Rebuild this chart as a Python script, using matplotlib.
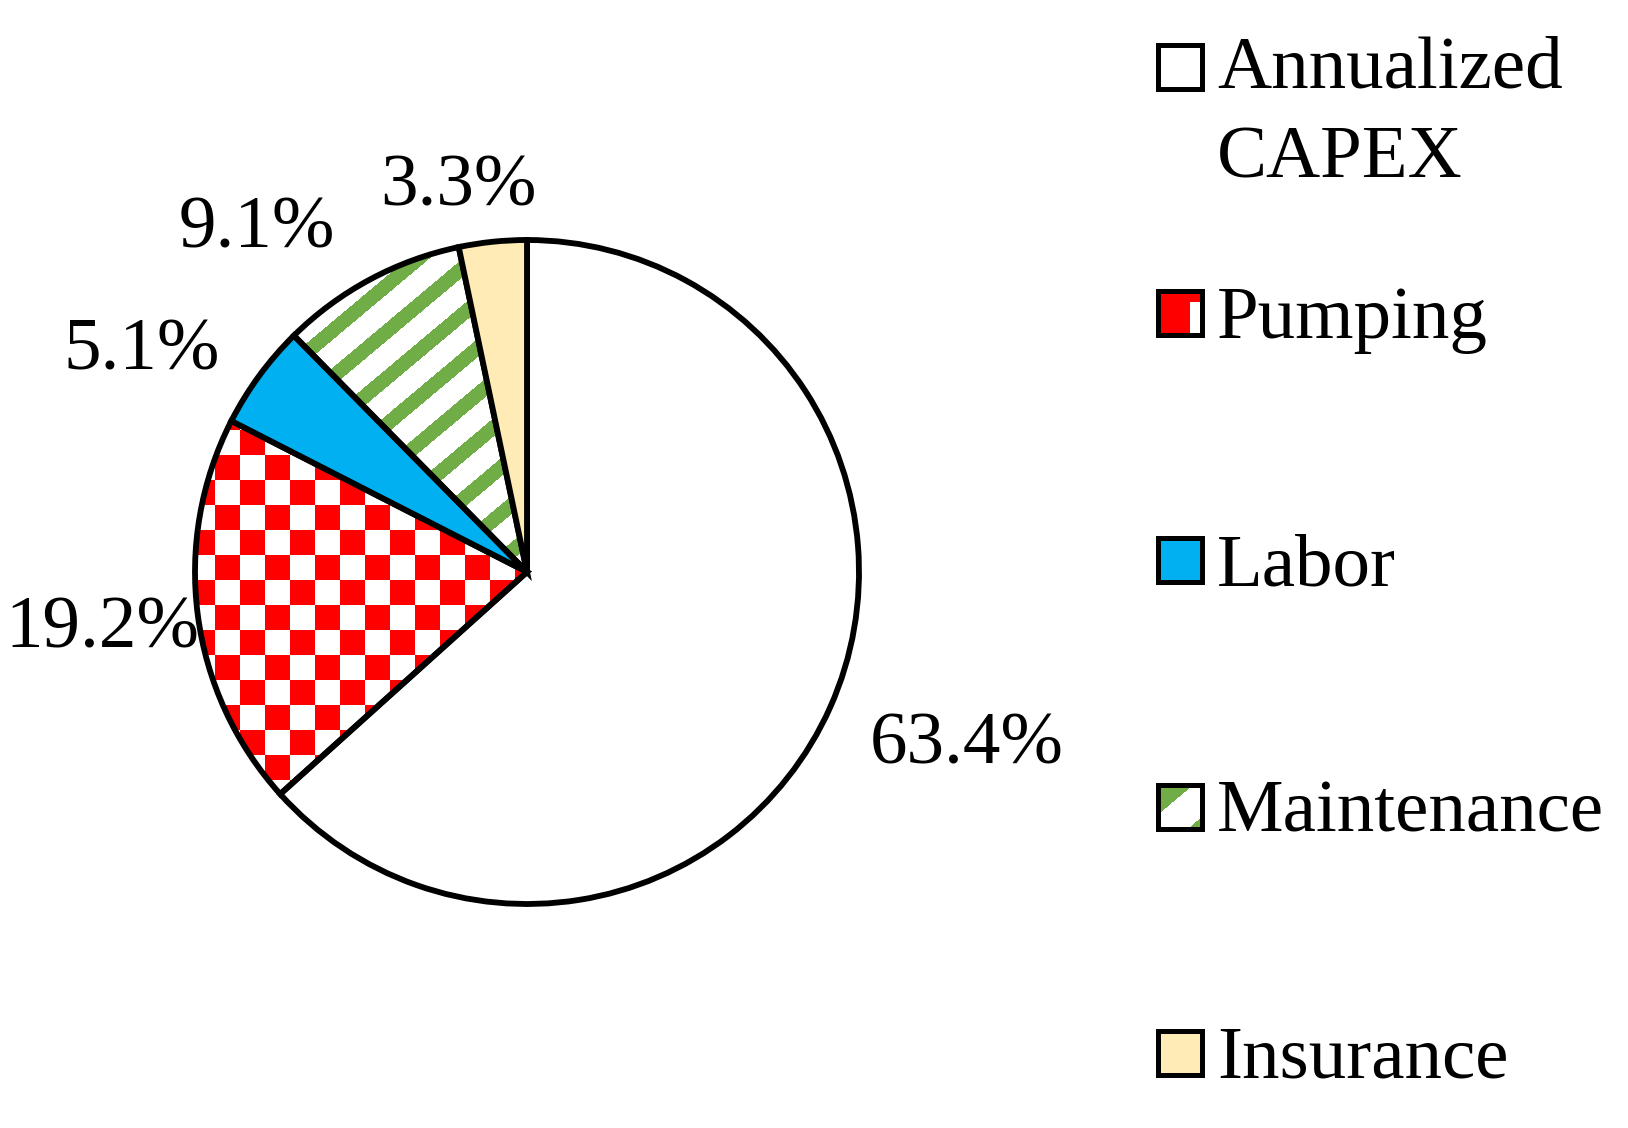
import numpy as np
import matplotlib
matplotlib.use('Agg')
import matplotlib.pyplot as plt
from matplotlib.patches import Rectangle

# ---- data ----
categories = ['Annualized\nCAPEX', 'Pumping', 'Labor', 'Maintenance', 'Insurance']
shares = [63.4, 19.2, 5.1, 9.1, 3.3]
pct_labels = ['63.4%', '19.2%', '5.1%', '9.1%', '3.3%']

# ---- styles ----
W, H = 1628, 1128
FONT = 'Liberation Serif'
FS = 54
RED = np.array([1.0, 0.0, 0.0])
GREEN = np.array([112, 173, 71]) / 255.0
WHITE = np.array([1.0, 1.0, 1.0])
fills = ['white', 'none', '#00B0F0', 'none', '#FFEBB5']

fig = plt.figure(figsize=(W / 100, H / 100), dpi=100)
ax = fig.add_axes([0, 0, 1, 1])


def Y(y):
    return H - y


cx, cy, R = 527, Y(572), 332
wedges, _ = ax.pie(shares, startangle=90, counterclock=False, center=(cx, cy),
                   radius=R, colors=fills,
                   wedgeprops=dict(edgecolor='black', linewidth=4.2))
ax.set_xlim(0, W)
ax.set_ylim(0, H)
ax.set_aspect('auto')
ax.set_axis_off()

# ---- pattern images ----
rr, cc = np.mgrid[0:H, 0:W]
checker = (((cc - 15) // 25 + (rr - 5) // 25) % 2) == 0
img_check = np.ones((H, W, 3))
img_check[checker] = RED

a = np.deg2rad(40)
v = cc * np.sin(a) + rr * np.cos(a)
P = 35.5
d = ((v - 501.9) / P) % 1.0
stripe = (d < 0.2) | (d > 0.8)
img_stripe = np.ones((H, W, 3))
img_stripe[stripe] = GREEN

for idx, img in ((1, img_check), (3, img_stripe)):
    im = ax.imshow(img, extent=(0, W, 0, H), origin='upper',
                   interpolation='nearest', zorder=0.5)
    im.set_clip_path(wedges[idx])

# ---- pie labels ----
label_pos = [(967, 763), (102, 648), (142, 369), (257, 247), (458, 205)]
for txt, (x, y) in zip(pct_labels, label_pos):
    ax.text(x, Y(y), txt, fontsize=FS, family=FONT, ha='center', va='baseline')

# ---- legend ----
leg_centers = [67, 313, 560, 807, 1053]
sq = 44
sq_left = 1158
text_x = 1217
line_step = 85
n = sq
lr, lc = np.mgrid[0:n, 0:n]
sw_pump = np.ones((n, n, 3)) * RED
sw_pump[(lr >= 11) & (lc >= 32)] = WHITE
lv = lc * np.sin(a) + lr * np.cos(a)
sw_maint = np.ones((n, n, 3))
sw_maint[(lv < 22) | (lv > 52)] = GREEN
swatches = {1: sw_pump, 3: sw_maint}

for i, (lab, yc) in enumerate(zip(categories, leg_centers)):
    top = yc - sq / 2
    if i in swatches:
        ax.imshow(swatches[i], extent=(sq_left, sq_left + sq, Y(top + sq), Y(top)),
                  origin='upper', interpolation='nearest', zorder=2)
        fc = 'none'
    else:
        fc = fills[i]
    ax.add_patch(Rectangle((sq_left, Y(top + sq)), sq, sq, facecolor=fc,
                           edgecolor='black', linewidth=3.6, zorder=3))
    nlines = lab.count('\n') + 1
    ax.text(text_x, Y(yc + 25 + (nlines - 1) * line_step), lab, fontsize=FS,
            family=FONT, ha='left', va='baseline', linespacing=1.42)

ax.set_xlim(0, W)
ax.set_ylim(0, H)
fig.savefig('out.png', dpi=100)
